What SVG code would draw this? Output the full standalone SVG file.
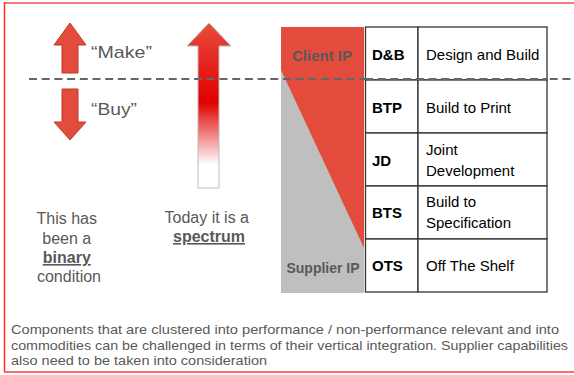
<svg xmlns="http://www.w3.org/2000/svg" width="574" height="375" viewBox="0 0 574 375">
<defs>
<style>
.g{font-family:"Liberation Sans",Arial,sans-serif;fill:#595959}
.t{font-family:"Liberation Sans",Arial,sans-serif;fill:#000;font-size:15px}
.b{font-weight:bold}
.arr{fill:#e34c3c;stroke:#c0392b;stroke-width:1}
.cell{fill:#fff;stroke:#333;stroke-width:1.3}
</style>
<linearGradient id="spec" x1="0" y1="23" x2="0" y2="188" gradientUnits="userSpaceOnUse">
<stop offset="0" stop-color="#e84c3d"/>
<stop offset="0.48" stop-color="#e00000"/>
<stop offset="0.6" stop-color="#ea5050"/>
<stop offset="0.86" stop-color="#ffffff"/>
<stop offset="1" stop-color="#ffffff"/>
</linearGradient>
</defs>
<rect width="574" height="375" fill="#fff"/>
<g id="frame">
<line x1="4" y1="3" x2="574" y2="3" stroke="#f77b7b" stroke-width="2"/>
<line x1="4.5" y1="2" x2="4.5" y2="372" stroke="#ff2a2a" stroke-width="1.5"/>
<line x1="4" y1="372" x2="574" y2="372" stroke="#ff3a3a" stroke-width="1.5"/>
</g>
<g id="make-arrow">
<polygon class="arr" points="70,23 86,45 78,45 78,73 62,73 62,45 54,45"/>
<text class="g" x="91" y="58" font-size="17" textLength="61" lengthAdjust="spacingAndGlyphs">“Make”</text>
</g>
<g id="buy-arrow">
<polygon class="arr" points="62,89 78,89 78,122 86,122 70,140 54,122 62,122"/>
<text class="g" x="91" y="115" font-size="17" textLength="46" lengthAdjust="spacingAndGlyphs">“Buy”</text>
</g>
<g id="spectrum-arrow">
<polygon points="209,23 231,46 219,46 219,188 198,188 198,46 187,46" fill="url(#spec)" stroke="#bdbdbd" stroke-width="1"/>
</g>
<g id="ip-panel">
<rect x="281" y="27" width="83" height="266" fill="#bfbfbf"/>
<polygon points="281,27 364,27 364,248 281,70" fill="#e34c3c"/>
<text class="g b" x="322" y="61" font-size="15" text-anchor="middle">Client IP</text>
<text class="g b" x="323" y="273" font-size="14" text-anchor="middle">Supplier IP</text>
</g>
<g id="connectors">
<line x1="29" y1="79" x2="574" y2="79" stroke="#666" stroke-width="2" stroke-dasharray="8,4.7"/>
</g>
<g id="table">
<rect class="cell" x="365.5" y="27" width="52.5" height="53"/>
<rect class="cell" x="418" y="27" width="129" height="53"/>
<rect class="cell" x="365.5" y="80" width="52.5" height="53"/>
<rect class="cell" x="418" y="80" width="129" height="53"/>
<rect class="cell" x="365.5" y="133" width="52.5" height="53"/>
<rect class="cell" x="418" y="133" width="129" height="53"/>
<rect class="cell" x="365.5" y="186" width="52.5" height="53"/>
<rect class="cell" x="418" y="186" width="129" height="53"/>
<rect class="cell" x="365.5" y="239" width="52.5" height="53"/>
<rect class="cell" x="418" y="239" width="129" height="53"/>
<line x1="365" y1="79" x2="548" y2="79" stroke="#666" stroke-width="2" stroke-dasharray="8,4.7"/>
</g>
<g id="row-db"><text class="t b" x="372" y="60">D&amp;B</text><text class="t" x="426" y="60">Design and Build</text></g>
<g id="row-btp"><text class="t b" x="372" y="113">BTP</text><text class="t" x="426" y="113">Build to Print</text></g>
<g id="row-jd"><text class="t b" x="372" y="166">JD</text><text class="t" x="426" y="155">Joint</text><text class="t" x="426" y="176">Development</text></g>
<g id="row-bts"><text class="t b" x="372" y="218">BTS</text><text class="t" x="426" y="207">Build to</text><text class="t" x="426" y="228">Specification</text></g>
<g id="row-ots"><text class="t b" x="372" y="271">OTS</text><text class="t" x="426" y="271">Off The Shelf</text></g>
<g id="binary-text">
<text class="g" font-size="16" text-anchor="middle">
<tspan x="69" y="224">This has</tspan>
<tspan x="69" y="244">been a</tspan>
<tspan x="69" y="263" font-weight="bold" text-decoration="underline">binary</tspan>
<tspan x="69" y="282">condition</tspan>
</text>
</g>
<g id="spectrum-text">
<text class="g" font-size="16" text-anchor="middle">
<tspan x="209" y="223">Today it is a</tspan>
<tspan x="209" y="242" font-weight="bold" text-decoration="underline">spectrum</tspan>
</text>
</g>
<g id="footer">
<text class="g" font-size="13.5">
<tspan x="11" y="334" textLength="548" lengthAdjust="spacingAndGlyphs">Components that are clustered into performance / non-performance relevant and into</tspan>
<tspan x="11" y="350" textLength="557" lengthAdjust="spacingAndGlyphs">commodities can be challenged in terms of their vertical integration. Supplier capabilities</tspan>
<tspan x="11" y="365" textLength="256" lengthAdjust="spacingAndGlyphs">also need to be taken into consideration</tspan>
</text>
</g>
</svg>
